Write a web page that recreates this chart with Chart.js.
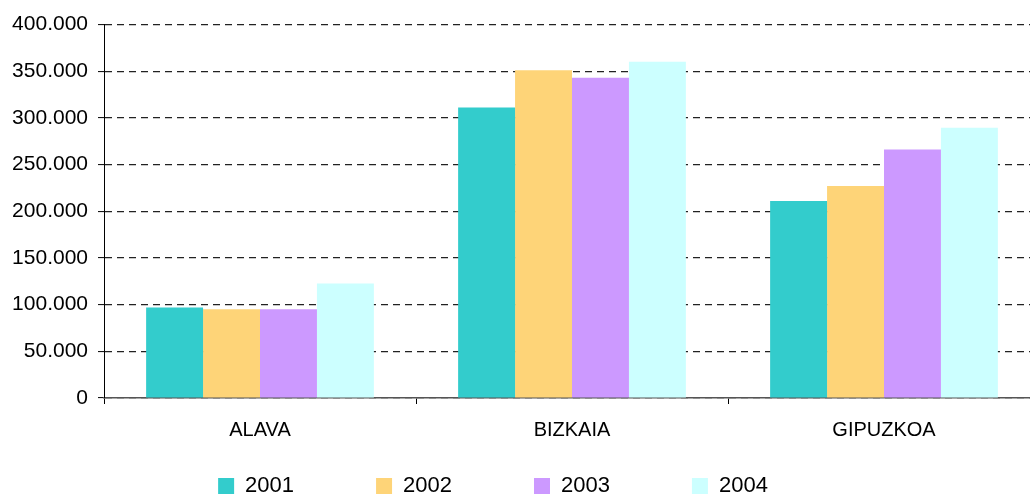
<!DOCTYPE html>
<html>
<head>
<meta charset="utf-8">
<script src="https://cdn.jsdelivr.net/npm/chart.js@4/dist/chart.umd.min.js"></script>
<style>
  html, body { margin: 0; padding: 0; background: #fff; overflow: hidden; }
  #wrap { width: 1040px; height: 495px; }
</style>
</head>
<body>
<div id="wrap"><canvas id="myChart" width="1040" height="495"></canvas></div>
<script>
const categories = ["ALAVA", "BIZKAIA", "GIPUZKOA"];
const years = ["2001", "2002", "2003", "2004"];
const values2001 = [97000, 311000, 211000];
const values2002 = [95000, 351000, 227000];
const values2003 = [95000, 343000, 266000];
const values2004 = [122500, 360000, 289500];
const colors = ["#33CCCC", "#FED478", "#CC99FF", "#CCFFFF"];

const series = [values2001, values2002, values2003, values2004];

const formatThousands = (v) =>
  String(v).replace(/\B(?=(\d{3})+(?!\d))/g, ".");

// move the legend a bit, chart.js only centers it on the canvas
// (only top is moved so the clip area still covers the labels)
const legendNudge = {
  id: "legendNudge",
  afterLayout(chart) {
    const lg = chart.legend;
    lg.left -= 27;
    lg.right -= 27;
    lg.top -= 62;
  },
};

const ctx = document.getElementById("myChart").getContext("2d");
const chartInstance = new Chart(ctx, {
  type: "bar",
  data: {
    labels: categories,
    datasets: years.map((y, i) => ({
      label: y,
      data: series[i],
      backgroundColor: colors[i],
      borderWidth: 0,
      categoryPercentage: 0.73,
      barPercentage: 1.0,
    })),
  },
  options: {
    responsive: false,
    animation: false,
    layout: { padding: { top: 24.5, left: 0, right: 0, bottom: 0 } },
    plugins: {
      tooltip: { enabled: false },
      legend: {
        position: "bottom",
        maxHeight: 40,
        labels: {
          boxWidth: 16,
          boxHeight: 16,
          padding: 82,
          color: "#000",
          font: { family: "'Liberation Sans', Arial, sans-serif", size: 22 },
        },
      },
    },
    scales: {
      x: {
        grid: {
          offset: true,
          drawOnChartArea: false,
          drawTicks: true,
          tickLength: 6,
          color: "#000",
        },
        border: { color: "#555", width: 1.5 },
        ticks: {
          color: "#000",
          padding: 14,
          font: { family: "'Liberation Sans', Arial, sans-serif", size: 20 },
        },
        afterFit: (scale) => {
          scale.height = 57;
        },
      },
      y: {
        min: 0,
        max: 400000,
        grid: {
          color: "#222",
          lineWidth: 1.2,
          tickBorderDash: [],
          tickLength: 6,
          tickWidth: 1,
          tickColor: "#000",
        },
        border: { color: "#000", width: 1, dash: [7, 5] },
        ticks: {
          stepSize: 50000,
          color: "#000",
          padding: 10,
          font: { family: "'Liberation Sans', Arial, sans-serif", size: 21 },
          callback: (v) => formatThousands(v),
        },
        afterFit: (scale) => {
          scale.width = 104;
        },
      },
    },
  },
  plugins: [legendNudge],
});
</script>
</body>
</html>
